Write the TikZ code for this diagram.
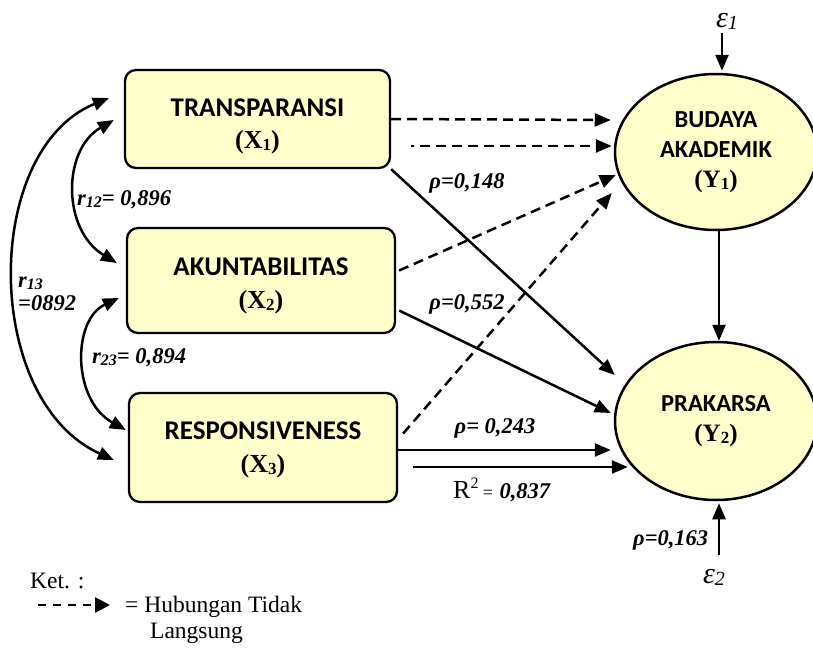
\documentclass[tikz,border=0pt]{standalone}
\usepackage{fontspec}
\setmainfont{Liberation Serif}
\newfontfamily\boxfont{Carlito}
\usetikzlibrary{arrows.meta,shapes.geometric}
\definecolor{paleyellow}{RGB}{255,255,204}
\newcommand{\subidx}[2]{\raisebox{-2pt}{\fontsize{#1}{#1}\selectfont #2}}
\newcommand{\varlabel}[1]{{\rmfamily\fontsize{26}{30}\selectfont\bfseries(X\subidx{17}{#1})}}
\tikzset{
  varbox/.style={draw, line width=2.3pt, rounded corners=11pt, fill=paleyellow, inner sep=0pt},
  boxtitle/.style={inner sep=0pt, anchor=base, font=\boxfont\bfseries\fontsize{27}{33}\selectfont},
  boxsub/.style={inner sep=0pt, anchor=base},
  latent/.style={ellipse, draw, line width=2.5pt, fill=paleyellow, inner sep=0pt,
    minimum width=202pt, minimum height=156pt, align=center,
    font=\boxfont\bfseries\fontsize{24.5}{30}\selectfont},
  tip/.style={-{Triangle[length=16pt,width=13pt]}},
  pathline/.style={line width=2.5pt, tip},
  indirect/.style={line width=2.5pt, tip, dash pattern=on 10pt off 6pt},
  corr/.style={line width=2.5pt, {Triangle[length=16pt,width=13pt]}-{Triangle[length=16pt,width=13pt]}},
  coef/.style={font=\bfseries\itshape\fontsize{22.5}{25}\selectfont, inner sep=0pt},
  plain/.style={font=\fontsize{23.5}{26}\selectfont, inner sep=0pt}
}
\begin{document}
\begin{tikzpicture}[x=1pt,y=-1pt]
\useasboundingbox (0,0) rectangle (813,648);

% exogenous variables
\node[varbox, minimum width=265pt, minimum height=98pt] (X1) at (257.5,119) {};
\node[varbox, minimum width=268pt, minimum height=105pt] (X2) at (261,280.5) {};
\node[varbox, minimum width=268pt, minimum height=109pt] (X3) at (263,447.5) {};
\node[boxtitle] (X1t) at ([yshift=3]X1.center) {TRANSPARANSI};
\node[boxsub]   (X1s) at ([yshift=-29]X1.center) {\varlabel{1}};
\node[boxtitle] (X2t) at ([yshift=5.5]X2.center) {AKUNTABILITAS};
\node[boxsub]   (X2s) at ([yshift=-27.5]X2.center) {\varlabel{2}};
\node[boxtitle] (X3t) at ([yshift=8.5]X3.center) {RESPONSIVENESS};
\node[boxsub]   (X3s) at ([yshift=-24.5]X3.center) {\varlabel{3}};

% endogenous variables
\node[latent] (Y1) at (716,152)
  {BUDAYA\\AKADEMIK\\{\fontsize{25}{33}\selectfont\bfseries\rmfamily(Y\subidx{17}{1})}};
\node[latent, minimum height=158pt] (Y2) at (716,421)
  {PRAKARSA\\{\fontsize{25}{35}\selectfont\bfseries\rmfamily(Y\subidx{17}{2})}};

% error terms
\coordinate (e1) at (722,33);
\coordinate (e2) at (719,555);
\node[inner sep=0pt, anchor=base] (eps1) at (727,27)
  {\fontsize{30}{30}\selectfont\itshape ε\subidx{20}{\itshape 1}};
\node[inner sep=0pt, anchor=base] (eps2) at (714,583)
  {\fontsize{30}{30}\selectfont\itshape ε\subidx{20}{2}};
\draw[pathline] (e1) -- ([shift={(6,-2)}]Y1.north);
\draw[pathline] (e2) -- ([shift={(3,2)}]Y2.south);

% indirect (dashed) paths to Y1
\draw[indirect] (X1.east) -- ([shift={(-3,-32)}]Y1.west);
\draw[indirect, dash phase=7pt] ([shift={(20,27)}]X1.east) -- ([shift={(-2,-6)}]Y1.west);
\draw[indirect] ([shift={(3,-10)}]X2.east) -- ([shift={(2,23)}]Y1.west);
\draw[indirect] ([shift={(5,-14)}]X3.east) -- ([shift={(-2,41)}]Y1.west);

% direct paths to Y2
\draw[pathline] (X1.south east) -- ([shift={(1,-46)}]Y2.west);
\draw[pathline] ([shift={(3,30)}]X2.east) -- ([shift={(-3,-8)}]Y2.west);
\draw[pathline] ([shift={(0,2.5)}]X3.east) -- ([shift={(-3,29)}]Y2.west);
\draw[pathline] ([shift={(15,19.5)}]X3.east) -- ([shift={(14,46)}]Y2.west);
\draw[pathline] ([xshift=3]Y1.south) -- ([xshift=3]Y2.north);

% correlations between exogenous variables
\draw[corr] ([shift={(-10,1)}]X1.west) .. controls (62,150) and (62,230) .. ([shift={(-9,-17.5)}]X2.west);
\draw[corr] ([shift={(-7,17.5)}]X2.west) .. controls (72,320) and (72,400) .. ([shift={(-2,-17.5)}]X3.west);
\draw[corr] ([shift={(-15,-21)}]X1.west) .. controls (-18,150) and (-18,400) .. ([shift={(-14,12.5)}]X3.west);

% coefficients
\node[coef] (p148) at (467,183) {ρ=0,148};
\node[coef] (p552) at (467,304) {ρ=0,552};
\node[coef] (p243) at (495,428) {ρ= 0,243};
\node[inner sep=0pt, anchor=base west] (r2) at (453,498)
  {\fontsize{26}{26}\selectfont R\raisebox{10pt}{\fontsize{16}{16}\selectfont 2}\,{\fontsize{18}{18}\selectfont =} {\bfseries\itshape\fontsize{22.5}{25}\selectfont 0,837}};
\node[coef, anchor=base west] (p163) at (633,545) {ρ=0,163};
\node[coef, anchor=base west] (r12) at (77,205) {r\subidx{16}{12}= 0,896};
\node[coef, anchor=base west] (r23) at (92,363) {r\subidx{16}{23}= 0,894};
\node[coef, anchor=base west] (r13a) at (18,287) {r\subidx{16}{13}};
\node[coef, anchor=base west] (r13b) at (18,310) {=0892};

% legend
\node[plain, anchor=base west] (ket) at (30,588) {Ket. :};
\coordinate (lgA) at (38,605);
\coordinate (lgB) at (110,605);
\draw[line width=2.5pt, dash pattern=on 8pt off 7pt, -{Triangle[length=15pt,width=15pt]}] (lgA) -- (lgB);
\node[plain, anchor=base west] (lg1) at (125,612) {= Hubungan Tidak};
\node[plain, anchor=base west] (lg2) at (150,638) {Langsung};
\end{tikzpicture}
\end{document}
